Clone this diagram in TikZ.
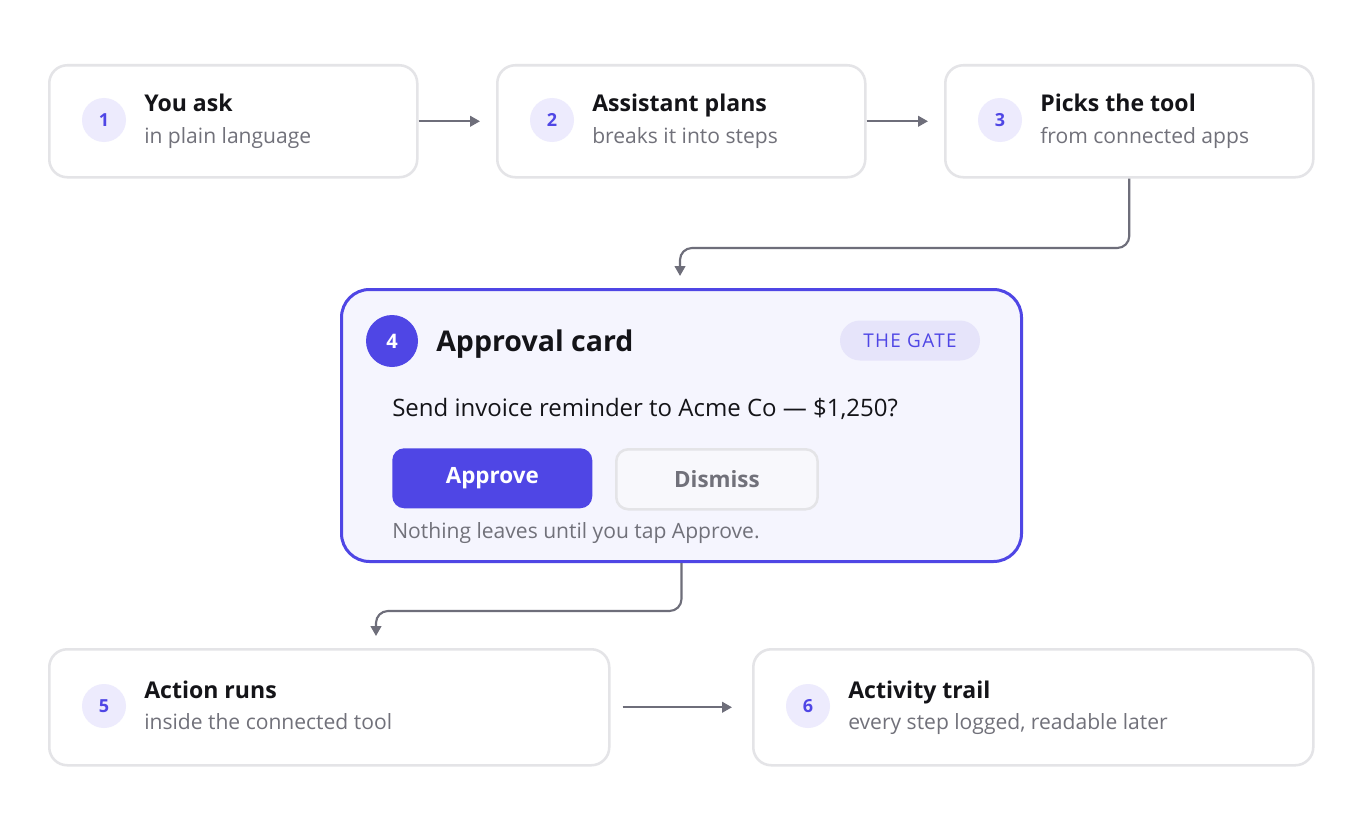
\documentclass[tikz,border=0pt]{standalone}
\usepackage{fontspec}
\setmainfont{Open Sans}
\usetikzlibrary{arrows.meta,calc}
\definecolor{indigo}{HTML}{4F46E5}
\definecolor{cardfill}{HTML}{F5F5FE}
\definecolor{lavender}{HTML}{EDEBFD}
\definecolor{pillfill}{HTML}{E6E4FA}
\definecolor{bordergray}{HTML}{E4E4E7}
\definecolor{ink}{HTML}{141418}
\definecolor{muted}{HTML}{71717A}
\definecolor{arrowgray}{HTML}{6E6E7A}
\definecolor{dismissfill}{HTML}{F8F8FC}
\begin{document}
\begin{tikzpicture}[x=0.75pt,y=-0.75pt,
  stepcard/.style={draw=bordergray, line width=1.9pt, fill=white, rounded corners=13.5pt,
    minimum height=84pt, inner sep=0pt, anchor=north west},
  numdot/.style={circle, fill=lavender, minimum size=33pt, inner sep=0pt, text=indigo,
    font=\bfseries\fontsize{13.5}{16}\selectfont},
  titletext/.style={anchor=base west, inner sep=0pt, text=ink,
    font=\bfseries\fontsize{17.3}{20}\selectfont},
  subtext/.style={anchor=base west, inner sep=0pt, text=muted,
    font=\fontsize{15.8}{18}\selectfont},
  conn/.style={draw=arrowgray, line width=1.6pt, -{Triangle[length=7.5pt,width=8pt]}},
  btn/.style={anchor=north west, minimum width=150pt, minimum height=45pt, inner sep=0pt,
    rounded corners=9pt, font=\bfseries\fontsize{16.8}{20}\selectfont},
]
\useasboundingbox[fill=white] (0,0) rectangle (1360,824);

% top row
\node[stepcard, minimum width=276pt] (b1) at (48,64) {};
\node[stepcard, minimum width=276pt] (b2) at (496,64) {};
\node[stepcard, minimum width=276pt] (b3) at (944,64) {};

\node[numdot] (n1) at (104,120) {1};
\node[titletext] (t1) at (144,112) {You ask};
\node[subtext] (s1) at (144,143) {in plain language};

\node[numdot] (n2) at (552,120) {2};
\node[titletext] (t2) at (592,112) {Assistant plans};
\node[subtext] (s2) at (592,143) {breaks it into steps};

\node[numdot] (n3) at (1000,120) {3};
\node[titletext] (t3) at (1040,112) {Picks the tool};
\node[subtext] (s3) at (1040,143) {from connected apps};

\draw[conn] (b1.east) -- ([xshift=-12pt]b2.west);
\draw[conn] (b2.east) -- ([xshift=-12pt]b3.west);

% approval card
\node[draw=indigo, line width=2.25pt, fill=cardfill, rounded corners=21pt,
  minimum width=510pt, minimum height=204pt, inner sep=0pt, anchor=north west] (card) at (340,288) {};
\node[circle, fill=indigo, minimum size=39pt, inner sep=0pt, text=white,
  font=\bfseries\fontsize{15}{18}\selectfont] (n4) at (392,341) {4};
\node[anchor=base west, inner sep=0pt, text=ink, font=\bfseries\fontsize{21.4}{25}\selectfont] (t4) at (436,351) {Approval card};
\node[fill=pillfill, rounded corners=15pt, minimum width=105pt, minimum height=30pt, inner sep=0pt,
  text=indigo, font=\fontsize{14.2}{16}\selectfont\addfontfeature{LetterSpace=7}] (gate) at (910,340.5) {THE GATE};
\node[anchor=base west, inner sep=0pt, text=ink, font=\fontsize{18}{21}\selectfont] (q) at (392,416)
  {Send invoice reminder to Acme Co — \$1,250?};
\node[btn, fill=indigo, text=white] (approve) at (392,448) {Approve};
\node[btn, fill=dismissfill, draw=bordergray, line width=1.9pt, text=muted, minimum width=151pt] (dismiss) at (615,448) {Dismiss};
\node[anchor=base west, inner sep=0pt, text=muted, font=\fontsize{15.8}{18}\selectfont] (note) at (392,538)
  {Nothing leaves until you tap Approve.};

\coordinate (m1) at (680,248);
\coordinate (c1) at (680,276);
\draw[conn, rounded corners=9pt] (b3.south) |- (m1) -- (c1);

% bottom row
\node[stepcard, minimum width=420pt, minimum height=87pt] (b5) at (48,648) {};
\node[stepcard, minimum width=420pt, minimum height=87pt] (b6) at (752,648) {};

\node[numdot] (n5) at (104,706) {5};
\node[titletext] (t5) at (144,698) {Action runs};
\node[subtext] (s5) at (144,729) {inside the connected tool};

\node[numdot] (n6) at (808,706) {6};
\node[titletext] (t6) at (848,698) {Activity trail};
\node[subtext] (s6) at (848,729) {every step logged, readable later};

\coordinate (m2) at (376,611);
\coordinate (c2) at (376,636);
\draw[conn, rounded corners=9pt] (card.south) |- (m2) -- (c2);

\draw[conn] ([xshift=9pt]b5.east) -- ([xshift=-15pt]b6.west);
\end{tikzpicture}
\end{document}
